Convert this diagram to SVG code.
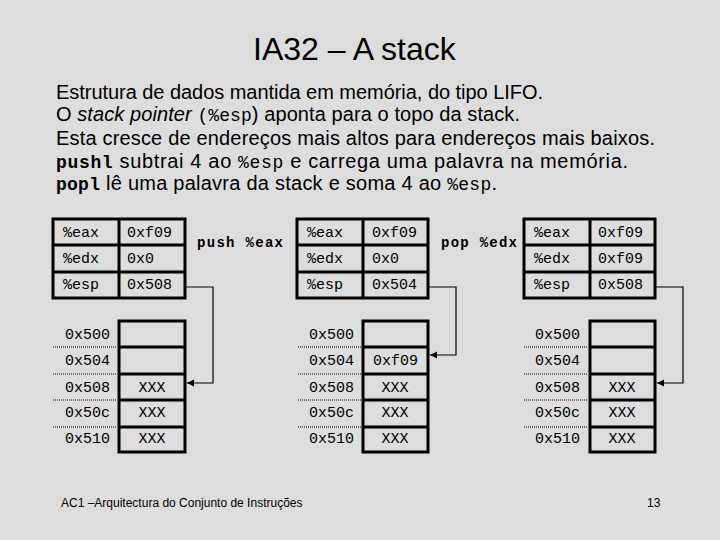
<svg xmlns="http://www.w3.org/2000/svg" width="720" height="540" viewBox="0 0 720 540">
<style>
.sans{font-family:"Liberation Sans",Arial,sans-serif;fill:#000}
.mono{font-family:"Liberation Mono","Courier New",monospace;fill:#000}
.cell{font-family:"Liberation Mono","Courier New",monospace;font-size:15px;fill:#000}
.box{fill:none;stroke:#000;stroke-width:3}
.dot{stroke:#000;stroke-width:1.2;stroke-dasharray:1 1}
.conn{fill:none;stroke:#000;stroke-width:1.2}
.op{font-family:"Liberation Mono","Courier New",monospace;font-size:14px;font-weight:bold;fill:#000}
</style>
<defs>
<marker id="ah" markerWidth="8" markerHeight="8" refX="7" refY="4" orient="auto" markerUnits="userSpaceOnUse">
<path d="M0,0.5 L7,4 L0,7.5 Z" fill="#000"/>
</marker>
</defs>
<rect width="720" height="540" fill="#dddddd"/>
<text class="sans" x="253" y="60" font-size="32">IA32 – A stack</text>
<g id="text">
<text class="sans" x="56" y="99" font-size="20" textLength="487" lengthAdjust="spacing">Estrutura de dados mantida em memória, do tipo LIFO.</text>
<text class="sans" x="56" y="121" font-size="20" textLength="464" lengthAdjust="spacing">O <tspan font-style="italic">stack pointer</tspan> <tspan class="mono" font-size="18">(%esp</tspan>) aponta para o topo da stack.</text>
<text class="sans" x="56" y="145" font-size="20" textLength="599" lengthAdjust="spacing">Esta cresce de endereços mais altos para endereços mais baixos.</text>
<text class="sans" x="56" y="168" font-size="20" textLength="572" lengthAdjust="spacing"><tspan class="mono" font-weight="bold" font-size="18">pushl</tspan> subtrai 4 ao <tspan class="mono" font-size="18">%esp</tspan> e carrega uma palavra na memória.</text>
<text class="sans" x="56" y="190" font-size="20" textLength="441" lengthAdjust="spacing"><tspan class="mono" font-weight="bold" font-size="18">popl</tspan> lê uma palavra da stack e soma 4 ao <tspan class="mono" font-size="18">%esp</tspan>.</text>
</g>

<g id="regs1">
<rect class="box" x="53" y="219" width="132" height="79"/>
<line class="box" x1="119" y1="219" x2="119" y2="298"/>
<line class="box" x1="53" y1="245" x2="185" y2="245"/>
<line class="box" x1="53" y1="272" x2="185" y2="272"/>
<text class="cell" x="63" y="237">%eax</text><text class="cell" x="127" y="237">0xf09</text>
<text class="cell" x="63" y="263">%edx</text><text class="cell" x="127" y="263">0x0</text>
<text class="cell" x="63" y="289">%esp</text><text class="cell" x="127" y="289">0x508</text>
</g>
<g id="mem1">
<rect class="box" x="119" y="321" width="66" height="131"/>
<line class="box" x1="119" y1="347" x2="185" y2="347"/>
<line class="box" x1="119" y1="374" x2="185" y2="374"/>
<line class="box" x1="119" y1="400" x2="185" y2="400"/>
<line class="box" x1="119" y1="427" x2="185" y2="427"/>
<line class="dot" x1="53" y1="347" x2="117" y2="347"/>
<line class="dot" x1="53" y1="374" x2="117" y2="374"/>
<line class="dot" x1="53" y1="400" x2="117" y2="400"/>
<line class="dot" x1="53" y1="427" x2="117" y2="427"/>
<text class="cell" x="65" y="339">0x500</text>
<text class="cell" x="65" y="365">0x504</text>
<text class="cell" x="65" y="392">0x508</text>
<text class="cell" x="65" y="417">0x50c</text>
<text class="cell" x="65" y="443">0x510</text>
<text class="cell" x="152" y="392" text-anchor="middle">XXX</text>
<text class="cell" x="152" y="417" text-anchor="middle">XXX</text>
<text class="cell" x="152" y="443" text-anchor="middle">XXX</text>
</g>
<g id="op1"><text class="op" x="197" y="247" textLength="86">push %eax</text></g>

<g id="regs2">
<rect class="box" x="297" y="219" width="131" height="79"/>
<line class="box" x1="363" y1="219" x2="363" y2="298"/>
<line class="box" x1="297" y1="245" x2="428" y2="245"/>
<line class="box" x1="297" y1="272" x2="428" y2="272"/>
<text class="cell" x="307" y="237">%eax</text><text class="cell" x="372" y="237">0xf09</text>
<text class="cell" x="307" y="263">%edx</text><text class="cell" x="372" y="263">0x0</text>
<text class="cell" x="307" y="289">%esp</text><text class="cell" x="372" y="289">0x504</text>
</g>
<g id="mem2">
<rect class="box" x="363" y="321" width="65" height="131"/>
<line class="box" x1="363" y1="347" x2="428" y2="347"/>
<line class="box" x1="363" y1="374" x2="428" y2="374"/>
<line class="box" x1="363" y1="400" x2="428" y2="400"/>
<line class="box" x1="363" y1="427" x2="428" y2="427"/>
<line class="dot" x1="298" y1="347" x2="361" y2="347"/>
<line class="dot" x1="298" y1="374" x2="361" y2="374"/>
<line class="dot" x1="298" y1="400" x2="361" y2="400"/>
<line class="dot" x1="298" y1="427" x2="361" y2="427"/>
<text class="cell" x="309" y="339">0x500</text>
<text class="cell" x="309" y="365">0x504</text>
<text class="cell" x="309" y="392">0x508</text>
<text class="cell" x="309" y="417">0x50c</text>
<text class="cell" x="309" y="443">0x510</text>
<text class="cell" x="373" y="365">0xf09</text>
<text class="cell" x="395" y="392" text-anchor="middle">XXX</text>
<text class="cell" x="395" y="417" text-anchor="middle">XXX</text>
<text class="cell" x="395" y="443" text-anchor="middle">XXX</text>
</g>
<g id="op2"><text class="op" x="441" y="247" textLength="76">pop %edx</text></g>

<g id="regs3">
<rect class="box" x="524" y="219" width="131" height="79"/>
<line class="box" x1="590" y1="219" x2="590" y2="298"/>
<line class="box" x1="524" y1="245" x2="655" y2="245"/>
<line class="box" x1="524" y1="272" x2="655" y2="272"/>
<text class="cell" x="534" y="237">%eax</text><text class="cell" x="598" y="237">0xf09</text>
<text class="cell" x="534" y="263">%edx</text><text class="cell" x="598" y="263">0xf09</text>
<text class="cell" x="534" y="289">%esp</text><text class="cell" x="598" y="289">0x508</text>
</g>
<g id="mem3">
<rect class="box" x="590" y="321" width="65" height="131"/>
<line class="box" x1="590" y1="347" x2="655" y2="347"/>
<line class="box" x1="590" y1="374" x2="655" y2="374"/>
<line class="box" x1="590" y1="400" x2="655" y2="400"/>
<line class="box" x1="590" y1="427" x2="655" y2="427"/>
<line class="dot" x1="524" y1="347" x2="587" y2="347"/>
<line class="dot" x1="524" y1="374" x2="587" y2="374"/>
<line class="dot" x1="524" y1="400" x2="587" y2="400"/>
<line class="dot" x1="524" y1="427" x2="587" y2="427"/>
<text class="cell" x="535" y="339">0x500</text>
<text class="cell" x="535" y="365">0x504</text>
<text class="cell" x="535" y="392">0x508</text>
<text class="cell" x="535" y="417">0x50c</text>
<text class="cell" x="535" y="443">0x510</text>
<text class="cell" x="622" y="392" text-anchor="middle">XXX</text>
<text class="cell" x="622" y="417" text-anchor="middle">XXX</text>
<text class="cell" x="622" y="443" text-anchor="middle">XXX</text>
</g>

<g id="connectors">
<path class="conn" d="M186,287 H213 V383 H187" marker-end="url(#ah)"/>
<path class="conn" d="M429,287 H456 V355 H430" marker-end="url(#ah)"/>
<path class="conn" d="M656,287 H683 V383 H657" marker-end="url(#ah)"/>
</g>

<text class="sans" x="61" y="507" font-size="12">AC1 –Arquitectura do Conjunto de Instruções</text>
<text class="sans" x="647" y="507" font-size="12">13</text>
</svg>
